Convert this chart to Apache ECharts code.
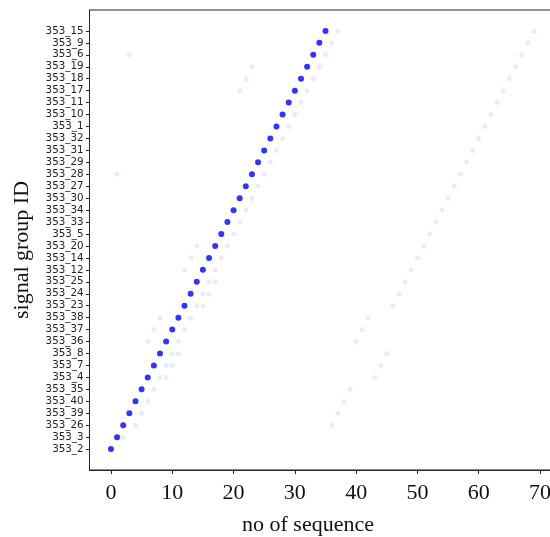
<!DOCTYPE html>
<html>
<head>
<meta charset="utf-8">
<script src="https://cdn.jsdelivr.net/npm/echarts@6/dist/echarts.min.js"></script>
<style>
html,body{margin:0;padding:0;background:#fff;}
#chart{width:550px;height:537px;}
</style>
</head>
<body>
<div id="chart"></div>
<script>
// signal group IDs, bottom to top
const categories = ['353_2','353_3','353_26','353_39','353_40','353_35','353_4','353_7','353_8','353_36',
  '353_37','353_38','353_23','353_24','353_25','353_12','353_14','353_20','353_5','353_33',
  '353_34','353_30','353_27','353_28','353_29','353_31','353_32','353_1','353_10','353_11',
  '353_17','353_18','353_19','353_6','353_9','353_15'];

// main sequence (blue): sequence number of each signal group, same order as categories
const mainSeq = [0,1,2,3,4,5,6,7,8,9,10,11,12,13,14,15,16,17,18,19,20,21,22,23,24,25,26,27,28,29,30,31,32,33,34,35];

// faint (other sequences) points: group and sequence number
const fadedGroup = [
  '353_3',
  '353_26','353_26',
  '353_39','353_39',
  '353_40','353_40',
  '353_35','353_35',
  '353_4','353_4','353_4',
  '353_7','353_7','353_7',
  '353_8','353_8','353_8',
  '353_36','353_36','353_36',
  '353_37','353_37','353_37',
  '353_38','353_38','353_38',
  '353_23','353_23','353_23',
  '353_24','353_24','353_24',
  '353_25','353_25','353_25',
  '353_12','353_12','353_12',
  '353_14','353_14','353_14',
  '353_20','353_20','353_20',
  '353_5','353_5',
  '353_33','353_33',
  '353_34','353_34',
  '353_30','353_30',
  '353_27','353_27',
  '353_28','353_28','353_28',
  '353_29','353_29',
  '353_31','353_31',
  '353_32','353_32',
  '353_1','353_1',
  '353_10','353_10',
  '353_11','353_11',
  '353_17','353_17','353_17',
  '353_18','353_18','353_18',
  '353_19','353_19','353_19',
  '353_6','353_6','353_6',
  '353_9','353_9',
  '353_15','353_15'
];
const fadedSeq = [
  2,
  4,36,
  5,37,
  6,38,
  7,39,
  8,9,43,
  9,10,44,
  10,11,45,
  6,11,40,
  7,12,41,
  8,13,42,
  14,15,46,
  15,16,47,
  16,17,48,
  12,17,49,
  13,18,50,
  14,19,51,
  20,52,
  21,53,
  22,54,
  23,55,
  24,56,
  1,25,57,
  26,58,
  27,59,
  28,60,
  29,61,
  30,62,
  31,63,
  21,32,64,
  22,33,65,
  23,34,66,
  3,35,67,
  36,68,
  37,69
];

const xTicks = [0,10,20,30,40,50,60,70];

const rowIdx = categories.map((c, i) => i);
const mainData = categories.map((c, i) => [mainSeq[i], i]);
const fadedData = fadedGroup.map((g, i) => [fadedSeq[i], categories.indexOf(g)]);

const chart = echarts.init(document.getElementById('chart'), null, {renderer: 'canvas'});
chart.setOption({
  animation: false,
  backgroundColor: '#ffffff',
  grid: {left: 89.5, top: 10, width: 472, height: 460, outerBoundsMode: 'none', containLabel: false,
    show: true, borderColor: '#222', borderWidth: 1, backgroundColor: 'transparent'},
  xAxis: {
    type: 'value', min: -3.5, max: 73.5,
    axisLine: {show: true, onZero: false, lineStyle: {color: '#222', width: 1}},
    axisTick: {show: true, length: 4, customValues: xTicks, lineStyle: {color: '#222'}},
    axisLabel: {show: true, customValues: xTicks, margin: 12, fontFamily: 'Liberation Serif', fontSize: 22, color: '#111'},
    splitLine: {show: false}
  },
  yAxis: {
    type: 'value', min: -1.75, max: 36.75,
    axisLine: {show: true, onZero: false, lineStyle: {color: '#222', width: 1}},
    axisTick: {show: true, length: 3.5, customValues: rowIdx, lineStyle: {color: '#222'}},
    axisLabel: {show: true, customValues: rowIdx, margin: 6, fontFamily: 'DejaVu Sans', fontSize: 10.3, color: '#222',
      formatter: v => categories[Math.round(v)] || ''},
    splitLine: {show: false}
  },
  graphic: [
    {type: 'text', x: 308, y: 525, style: {text: 'no of sequence', fontFamily: 'Liberation Serif', fontSize: 22, fill: '#111', textAlign: 'center', textVerticalAlign: 'middle'}},
    {type: 'text', x: 22, y: 250, rotation: Math.PI / 2, style: {text: 'signal group ID', fontFamily: 'Liberation Serif', fontSize: 22, fill: '#111', textAlign: 'center', textVerticalAlign: 'middle'}}
  ],
  series: [
    {type: 'scatter', data: fadedData, symbolSize: 5, itemStyle: {color: 'rgba(0,0,255,0.1)'}, z: 2, silent: true},
    {type: 'scatter', data: mainData, symbolSize: 6, itemStyle: {color: '#0000ff'}, z: 3, silent: true}
  ]
});
</script>
</body>
</html>
